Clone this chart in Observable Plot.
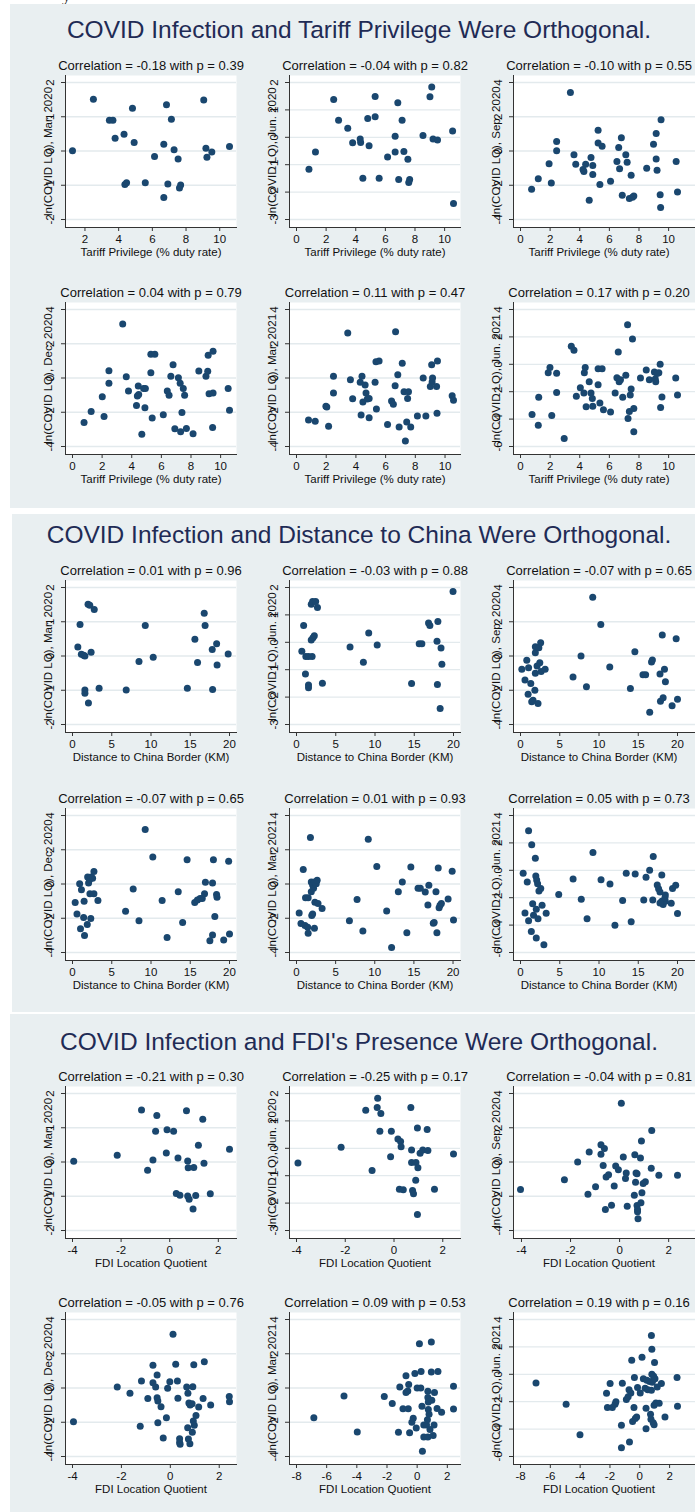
<!DOCTYPE html>
<html>
<head>
<meta charset="utf-8">
<script src="https://cdn.jsdelivr.net/npm/d3@7"></script>
<script src="https://cdn.jsdelivr.net/npm/@observablehq/plot@0.6"></script>
<style>
  html, body { margin: 0; padding: 0; background: #fff; }
  #page { position: relative; width: 695px; height: 1512px; overflow: hidden; background: #fff;
          font-family: "Liberation Sans", Arial, Helvetica, sans-serif; }
  .band { position: absolute; background: #e9eff1; }
  .stitle { position: absolute; left: 359px; transform: translateX(-50%); white-space: nowrap;
            font-size: 24.5px; line-height: 24.5px; color: #1f2b55; }
  .frag { position: absolute; left: 62px; top: -15px; font: 18px "Liberation Serif", serif; color: #222; }
  .panel { position: absolute; }
</style>
</head>
<body>
<div id="page"><span class="frag">y</span></div>
<script>
// ---- labels and ticks ----
const monthLabels = ["Mar. 2020", "Jun. 2020", "Sep. 2020", "Dec. 2020", "Mar. 2021", "Jun. 2021"];
const monthYTicks = [
  [-2, -1, 0, 1, 2],
  [-3, -2, -1, 0, 1, 2],
  [-4, -2, 0, 2, 4],
  [-4, -2, 0, 2, 4],
  [-4, -2, 0, 2, 4],
  [-6, -4, -2, 0, 2, 4]
];
const tariffTicks = [[2, 4, 6, 8, 10], [0, 2, 4, 6, 8, 10], [0, 2, 4, 6, 8, 10], [0, 2, 4, 6, 8, 10], [0, 2, 4, 6, 8, 10], [0, 2, 4, 6, 8, 10]];
const distanceTicks = [[0, 5, 10, 15, 20], [0, 5, 10, 15, 20], [0, 5, 10, 15, 20], [0, 5, 10, 15, 20], [0, 5, 10, 15, 20], [0, 5, 10, 15, 20]];
const fdiTicks = [[-4, -2, 0, 2], [-4, -2, 0, 2], [-4, -2, 0, 2], [-4, -2, 0, 2], [-8, -6, -4, -2, 0, 2], [-8, -6, -4, -2, 0, 2]];

// correlation coefficient and p-value shown above each panel
const tariffR = [-0.18, -0.04, -0.10, 0.04, 0.11, 0.17];
const tariffP = [0.39, 0.82, 0.55, 0.79, 0.47, 0.20];
const distanceR = [0.01, -0.03, -0.07, -0.07, 0.01, 0.05];
const distanceP = [0.96, 0.88, 0.65, 0.65, 0.93, 0.73];
const fdiR = [-0.21, -0.25, -0.04, -0.05, 0.09, 0.19];
const fdiP = [0.30, 0.17, 0.81, 0.76, 0.53, 0.16];

// ---- observations: [x, ln(COVID LQ)] ----
const tariffMar20 = [[1.26,0.01],[2.5,1.51],[3.45,0.9],[3.66,0.9],[3.79,0.37],[4.32,0.49],[4.82,1.25],[4.92,0.25],[4.37,-0.98],[4.47,-0.93],[5.58,-0.93],[6.13,-0.16],[6.68,0.2],[6.84,1.35],[7.13,0.93],[7.29,0.04],[7.53,-0.23],[6.68,-1.36],[6.92,-0.96],[7.68,-0.99],[7.61,-1.08],[9.05,1.49],[9.18,0.08],[9.24,-0.18],[9.53,-0.03],[10.58,0.13]];
const tariffJun20 = [[0.84,-1.17],[1.28,-0.54],[2.51,1.38],[2.84,0.62],[3.46,0.33],[3.79,-0.2],[4.3,-0.06],[4.33,-0.19],[4.81,0.69],[4.9,-0.31],[5.31,0.75],[5.31,1.49],[4.48,-1.49],[5.58,-1.49],[6.15,-0.72],[6.66,0.04],[6.66,-0.54],[6.84,1.26],[7.13,0.62],[7.25,-0.52],[7.52,-0.8],[6.9,-1.54],[7.64,-1.54],[7.58,-1.65],[8.54,0.07],[9.01,1.48],[9.13,1.84],[9.22,-0.06],[9.52,-0.1],[10.54,0.23],[10.6,-2.42]];
const tariffSep20 = [[0.75,-2.24],[1.2,-1.62],[1.93,-0.75],[2.08,-1.87],[2.44,0.55],[2.44,0.01],[3.37,3.42],[3.61,-0.22],[3.73,-0.77],[4.22,-1.08],[4.28,-1.19],[4.4,-0.77],[4.64,-2.88],[4.76,-0.38],[4.88,-0.84],[4.88,-1.37],[5.24,1.21],[5.24,0.47],[5.36,-1.95],[5.51,0.28],[6.08,-1.77],[6.51,-0.61],[6.63,0.2],[6.69,-1.04],[6.81,0.78],[6.87,-2.59],[7.11,-0.22],[7.2,-0.65],[7.35,-2.78],[7.47,-1.42],[7.56,-2.7],[7.65,-2.63],[8.52,-1.0],[8.98,0.4],[9.16,1.02],[9.16,-0.46],[9.22,-1.13],[9.49,1.83],[9.43,-2.55],[9.46,-3.3],[10.51,-0.61],[10.6,-2.39]];
const tariffDec20 = [[3.39,3.16],[0.78,-2.6],[1.26,-1.95],[2.01,-1.09],[2.13,-2.25],[2.46,0.43],[2.46,-0.31],[3.63,0.08],[3.78,-0.76],[4.32,-1.6],[4.38,-1.05],[4.44,-0.47],[4.47,-0.96],[4.68,-3.28],[4.8,-0.61],[4.92,-0.61],[4.89,-1.74],[5.29,1.39],[5.56,1.39],[5.29,0.31],[5.38,-2.34],[6.13,-2.15],[6.4,-0.76],[6.52,-1.0],[6.64,0.1],[6.79,0.78],[6.91,-2.97],[7.15,0.02],[7.27,-0.31],[7.3,-3.14],[7.39,-2.01],[7.48,-0.61],[7.57,-1.0],[7.69,-2.95],[8.14,-3.26],[8.53,0.41],[9.01,0.1],[9.13,0.39],[9.16,1.33],[9.22,-0.92],[9.49,1.56],[9.49,-0.88],[9.46,-2.89],[10.51,-0.61],[10.6,-1.89]];
const tariffMar21 = [[0.81,-2.45],[1.26,-2.53],[1.98,-1.65],[2.04,-1.69],[2.16,-2.82],[2.49,0.1],[2.49,-0.88],[3.45,2.63],[3.63,-0.1],[3.78,-1.21],[4.29,-0.25],[4.41,0.1],[4.35,-2.16],[4.47,-1.4],[4.62,-0.41],[4.68,-0.88],[4.77,-1.23],[4.89,-1.19],[4.89,-2.32],[5.29,-0.25],[5.35,0.95],[5.56,0.99],[5.38,-1.81],[6.13,-2.72],[6.4,-1.34],[6.52,-1.54],[6.64,-0.45],[6.67,2.7],[6.82,0.19],[6.91,-2.86],[7.12,0.86],[7.24,-0.8],[7.33,-3.68],[7.42,-2.57],[7.54,-0.8],[7.48,-1.19],[7.69,-2.86],[8.14,-2.22],[8.53,0.0],[8.71,-2.22],[9.1,0.78],[9.16,0.0],[9.13,-0.23],[9.01,-0.49],[9.43,-0.49],[9.49,0.99],[9.46,-2.06],[10.48,-1.03],[10.57,-1.3]];
const tariffJun21 = [[0.78,-3.66],[1.23,-2.41],[1.2,-4.44],[1.87,-0.61],[1.99,-0.24],[2.11,-3.73],[2.44,-0.66],[2.44,-2.05],[2.95,-5.41],[3.43,1.32],[3.61,1.02],[3.77,-2.34],[4.04,-1.71],[4.31,-0.61],[4.37,-0.24],[4.28,-2.1],[4.43,-3.1],[4.64,-1.27],[4.76,-2.1],[4.85,-2.49],[4.88,-3.07],[5.24,-1.49],[5.24,-0.32],[5.36,-2.83],[5.51,-0.32],[5.6,-3.32],[6.08,-3.49],[6.39,-2.1],[6.51,-0.98],[6.6,0.9],[6.66,-1.27],[6.75,-1.12],[6.9,-2.41],[7.11,-0.8],[7.23,2.88],[7.26,-3.95],[7.35,-3.44],[7.41,-2.24],[7.47,-1.8],[7.56,1.85],[7.65,-3.22],[7.65,-4.93],[8.1,-1.0],[8.49,-0.41],[8.7,-1.12],[9.04,-0.56],[9.13,-1.27],[9.1,-1.07],[9.34,-0.61],[9.43,0.0],[9.46,-3.15],[9.55,-2.39],[10.48,-1.0],[10.6,-2.24],[9.22,-0.68]];

const distMar20 = [[0.68,0.26],[0.96,0.92],[1.13,0.05],[1.41,0.02],[1.58,0.0],[1.98,1.51],[2.2,1.48],[2.77,1.36],[2.37,0.11],[1.58,-0.99],[1.58,-1.09],[2.03,-1.37],[3.39,-0.94],[6.84,-0.99],[8.47,-0.16],[9.27,0.89],[10.28,-0.04],[14.63,-0.94],[15.59,0.49],[15.93,-0.19],[16.78,1.25],[16.89,0.89],[17.85,-0.98],[17.8,0.19],[18.36,0.36],[18.42,-0.26],[19.83,0.06]];
const distJun20 = [[0.68,-0.33],[0.91,0.61],[1.14,-1.16],[1.19,-0.52],[1.53,-0.52],[1.99,-0.52],[1.53,-1.56],[1.53,-1.66],[1.88,1.39],[2.05,1.49],[2.44,1.49],[2.67,1.27],[1.88,0.08],[2.1,0.17],[2.27,0.24],[3.3,-1.49],[6.82,-0.17],[8.52,-0.73],[9.2,0.34],[10.28,-0.1],[14.66,-1.5],[15.63,-0.05],[15.97,-0.05],[16.82,0.7],[16.99,0.61],[18.01,0.76],[17.9,0.04],[18.41,-0.21],[18.52,-0.8],[17.95,-1.54],[18.3,-2.42],[19.94,1.85]];
const distSep20 = [[0.17,-0.78],[0.57,-1.4],[0.8,-0.25],[1.03,-0.68],[0.97,-2.23],[1.31,-1.61],[1.43,-2.67],[1.6,-2.58],[1.83,-2.0],[1.89,-1.01],[1.89,0.19],[1.89,0.54],[2.11,-0.58],[2.23,-2.77],[2.34,0.48],[2.46,-0.39],[2.57,0.78],[2.63,-0.91],[3.14,-0.78],[6.69,-1.22],[7.71,0.0],[8.4,-1.8],[9.2,3.43],[10.23,1.84],[11.37,-0.64],[14.0,-1.9],[14.57,0.25],[16.69,-0.35],[16.8,-0.23],[15.6,-1.1],[15.94,-1.1],[17.77,-1.05],[18.34,-0.78],[18.46,-1.51],[18.06,1.22],[17.83,-2.64],[18.17,-2.44],[16.46,-3.29],[19.31,-2.91],[20.0,-2.52],[19.83,1.01]];
const distDec20 = [[0.34,-1.08],[0.57,-1.75],[0.91,0.02],[1.14,-0.33],[1.02,-2.61],[1.42,-1.96],[1.48,-1.0],[1.53,-3.0],[1.88,-2.37],[1.93,0.41],[2.05,0.06],[2.16,0.25],[2.22,-0.57],[2.33,-2.02],[2.39,0.41],[2.56,0.33],[2.73,0.73],[2.73,-0.57],[3.24,-0.96],[6.76,-1.59],[7.73,-0.29],[8.47,-2.14],[9.26,3.18],[10.23,1.57],[11.42,-0.96],[12.05,-3.12],[13.47,-0.45],[14.03,-2.25],[14.6,1.41],[15.57,-1.08],[15.91,-0.94],[16.25,-0.84],[16.53,-0.84],[16.82,-0.57],[16.93,0.1],[17.84,0.06],[17.95,1.41],[17.84,-2.98],[17.5,-3.31],[18.13,-1.9],[18.35,-0.61],[18.41,-0.78],[19.26,-3.27],[19.89,1.33],[20.0,-2.92]];
const distMar21 = [[0.34,-1.69],[0.57,-2.31],[0.86,0.84],[1.09,-2.43],[1.15,-0.8],[1.49,-0.8],[1.43,-2.53],[1.49,-2.88],[1.78,2.71],[1.89,0.12],[1.95,-1.84],[1.89,-0.45],[2.06,-0.06],[2.06,-1.75],[2.18,-0.25],[2.29,-2.59],[2.29,0.12],[2.35,-1.06],[2.52,0.02],[2.64,0.22],[2.75,-1.14],[3.27,-1.43],[6.76,-2.14],[7.74,-0.9],[8.48,-2.75],[9.17,2.61],[10.26,1.02],[11.52,-1.57],[12.15,-3.71],[13.01,-0.45],[13.52,0.12],[14.1,-2.84],[14.61,1.0],[15.53,-0.25],[15.82,-0.25],[16.45,-0.47],[16.91,-0.08],[16.79,-1.22],[17.48,-2.29],[17.59,-2.25],[17.82,-0.45],[17.94,-2.84],[18.11,0.94],[18.22,-1.39],[18.34,-1.24],[18.51,-1.14],[19.37,-0.88],[19.89,0.75],[20.06,-2.1]];
const distJun21 = [[0.34,-0.22],[0.57,-3.11],[0.86,-0.86],[1.03,2.89],[1.03,-3.68],[1.38,-4.46],[1.43,1.86],[1.55,-2.45],[1.66,-3.28],[1.89,0.88],[1.95,-0.42],[2.01,-4.95],[2.01,-2.84],[2.06,-0.71],[2.18,-0.98],[2.23,-3.53],[2.35,-1.52],[2.58,-1.32],[2.75,-2.55],[2.98,-5.44],[3.27,-3.14],[4.87,-1.76],[6.7,-0.64],[7.74,-2.11],[8.48,-3.53],[9.23,1.3],[10.26,-0.69],[11.4,-1.0],[12.03,-4.02],[13.01,-2.21],[13.47,-0.22],[14.1,-3.75],[14.61,-0.27],[15.7,-2.16],[15.99,-0.51],[16.45,0.0],[16.91,1.0],[16.85,-2.16],[17.42,-1.08],[17.59,-1.35],[17.77,-1.59],[18.0,-0.34],[18.0,-2.25],[18.17,-2.5],[18.45,-1.81],[18.45,-2.25],[18.4,-2.01],[17.77,-2.38],[19.2,-2.4],[19.37,-1.32],[19.77,-1.1],[20.0,-3.16]];

const fdiMar20 = [[-3.95,0.02],[-2.16,0.2],[-1.16,1.52],[-0.91,-0.24],[-0.69,0.06],[-0.58,0.9],[-0.53,1.36],[-0.14,0.26],[-0.11,0.94],[0.16,0.9],[0.27,-0.92],[0.34,0.12],[0.42,-0.97],[0.69,1.5],[0.74,0.03],[0.76,-0.17],[0.74,-0.99],[0.8,-1.09],[0.96,-1.37],[0.99,-0.16],[1.07,-0.98],[1.18,0.49],[1.36,1.25],[1.41,-0.04],[1.67,-0.93],[2.46,0.37]];
const fdiJun20 = [[-3.94,-0.54],[-2.17,0.04],[-1.16,1.39],[-0.9,-0.81],[-0.69,1.49],[-0.67,1.83],[-0.54,1.27],[-0.58,0.62],[-0.11,0.62],[-0.14,-0.31],[0.16,0.34],[0.27,0.25],[0.29,0.06],[0.22,-1.49],[0.38,-1.51],[0.69,1.49],[0.72,-0.06],[0.72,-0.52],[0.76,-1.54],[0.8,-1.66],[0.9,-0.52],[0.98,-0.71],[0.89,-1.17],[0.96,0.74],[0.96,-2.42],[1.07,-0.18],[1.18,-0.06],[1.36,0.69],[1.39,-0.08],[1.66,-1.49],[2.44,-0.21]];
const fdiSep20 = [[-4.04,-1.61],[-2.25,-1.03],[-1.71,0.0],[-1.29,-1.88],[-1.24,0.58],[-0.98,-1.45],[-0.76,1.01],[-0.76,0.45],[-0.62,0.79],[-0.67,-0.21],[-0.58,-2.77],[-0.55,-0.87],[-0.45,-0.74],[-0.33,-2.52],[-0.22,-1.4],[-0.16,-0.23],[-0.05,-0.45],[0.07,3.43],[0.15,0.29],[0.24,-0.97],[0.27,-0.64],[0.31,-2.58],[0.6,-1.94],[0.62,0.43],[0.67,-0.64],[0.71,-0.68],[0.65,-1.18],[0.71,-2.54],[0.73,-2.77],[0.73,-2.91],[0.75,-3.31],[0.85,0.23],[0.87,-2.38],[0.91,-1.8],[0.96,-1.26],[1.05,-1.16],[0.89,1.22],[1.29,-0.37],[1.31,1.84],[1.6,-0.78],[2.36,-0.78]];
const fdiDec20 = [[-3.96,-1.97],[-2.17,0.06],[-1.65,-0.31],[-1.23,-2.24],[-1.18,0.41],[-0.92,-0.62],[-0.71,1.33],[-0.71,0.31],[-0.6,0.06],[-0.54,0.76],[-0.54,-0.57],[-0.51,-0.76],[-0.51,-2.03],[-0.38,-1.09],[-0.29,-2.92],[-0.16,-1.73],[-0.11,-0.02],[-0.02,0.37],[0.11,3.14],[0.22,1.38],[0.29,0.41],[0.31,-0.6],[0.38,-2.96],[0.38,-3.18],[0.4,-3.29],[0.67,0.06],[0.72,-0.31],[0.71,-2.32],[0.76,-0.88],[0.81,-0.99],[0.74,-2.98],[0.8,-3.26],[0.89,-0.92],[0.92,0.08],[0.96,1.36],[0.94,-1.93],[0.98,-2.18],[0.9,-2.59],[1.05,-1.6],[1.16,-1.11],[1.34,-0.62],[1.39,1.54],[1.65,-0.99],[2.41,-0.49],[2.42,-0.8]];
const fdiMar21 = [[-6.85,-1.73],[-4.85,-0.47],[-3.97,-2.57],[-2.18,-0.49],[-1.65,-0.91],[-1.24,-2.59],[-1.15,0.06],[-0.94,-1.21],[-0.74,-0.27],[-0.74,0.72],[-0.59,-1.21],[-0.62,-0.18],[-0.56,0.21],[-0.5,-2.61],[-0.35,-2.0],[-0.26,-1.77],[-0.15,0.84],[-0.06,-2.33],[0.0,0.0],[0.15,2.59],[0.26,0.97],[0.24,0.0],[0.32,-1.07],[0.44,-2.16],[0.44,-2.86],[0.35,-3.7],[0.62,-2.16],[0.71,-0.19],[0.71,-0.56],[0.74,-0.82],[0.74,-1.26],[0.68,-1.85],[0.71,-2.86],[0.79,-1.54],[0.85,-2.43],[0.94,0.93],[0.94,2.68],[0.97,-0.72],[1.06,-2.78],[1.12,-2.16],[1.15,-0.27],[1.32,-1.19],[1.38,0.97],[1.62,-1.42],[2.41,0.1],[2.41,-1.23]];
const fdiJun21 = [[-6.96,-0.63],[-4.94,-2.18],[-4.01,-4.42],[-2.23,-1.38],[-2.17,-2.43],[-1.99,-0.68],[-1.84,-2.43],[-1.66,-2.18],[-1.6,-2.01],[-1.23,-3.71],[-1.23,-5.36],[-1.17,-0.66],[-0.9,-1.84],[-0.78,-1.63],[-0.72,-1.12],[-0.69,-4.95],[-0.6,-1.36],[-0.54,1.02],[-0.48,-3.45],[-0.39,-2.43],[-0.36,-0.24],[-0.3,-3.23],[-0.21,-3.11],[-0.15,-0.97],[0.03,-1.36],[0.15,1.24],[0.24,-0.32],[0.36,-1.02],[0.42,-2.48],[0.42,-3.98],[0.54,-1.12],[0.66,-0.53],[0.72,-2.91],[0.75,-3.28],[0.78,2.84],[0.81,1.82],[0.81,0.0],[0.78,-1.17],[0.84,-0.58],[0.9,-3.54],[0.96,-3.69],[0.99,0.87],[0.96,-2.26],[1.02,-0.32],[1.08,-2.09],[1.17,-0.92],[1.3,-2.11],[1.45,-0.68],[1.69,-3.11],[2.5,-0.24],[2.53,-2.33],[0.48,-0.44],[0.93,-0.15]];

// ---- styling ----
const NAVY = "#1a476f";
const GRID = "#e3eaed";
const AXIS = "#333333";
const FONT = '"Liberation Sans", Arial, Helvetica, sans-serif';

// ---- layout of the three stacked figures ----
const sections = [
  { title: "COVID Infection and Tariff Privilege Were Orthogonal.", xLabel: "Tariff Privilege (% duty rate)",
    ticks: tariffTicks, r: tariffR, p: tariffP,
    series: [tariffMar20, tariffJun20, tariffSep20, tariffDec20, tariffMar21, tariffJun21],
    band: [4, 508, 10], titleTop: 18.3, rows: [81.7, 308.5] },
  { title: "COVID Infection and Distance to China Were Orthogonal.", xLabel: "Distance to China Border (KM)",
    ticks: distanceTicks, r: distanceR, p: distanceP,
    series: [distMar20, distJun20, distSep20, distDec20, distMar21, distJun21],
    band: [514, 1012, 12], titleTop: 523.3, rows: [587.3, 814.5] },
  { title: "COVID Infection and FDI's Presence Were Orthogonal.", xLabel: "FDI Location Quotient",
    ticks: fdiTicks, r: fdiR, p: fdiP,
    series: [fdiMar20, fdiJun20, fdiSep20, fdiDec20, fdiMar21, fdiJun21],
    band: [1014, 1512, 10], titleTop: 1030, rows: [1092.7, 1319.3] }
];
const colFrameLeft = [64.5, 289.2, 513.4];
const colFrameWidth = [171, 171, 182];
const ML = 64, MT = 30, MB = 40, FRAME_H = 152;

function scatterPanel({data, xTicks, yTicks, title, xLabel, yLabel, col}) {
  const frameW = colFrameWidth[col];
  const extra = frameW - 171;
  const xs = data.map(d => d[0]);
  const xDomain = [Math.min(d3.min(xs), xTicks[0]), Math.max(d3.max(xs), xTicks[xTicks.length - 1])];
  const yDomain = [yTicks[0], yTicks[yTicks.length - 1]];
  return Plot.plot({
    width: ML + frameW,
    height: MT + FRAME_H + MB,
    marginLeft: ML, marginRight: 0, marginTop: MT, marginBottom: MB,
    style: {background: "transparent", fontFamily: FONT, fontSize: "11.5px", color: "#111", overflow: "visible"},
    x: {domain: xDomain, insetLeft: 7, insetRight: 7 + extra},
    y: {domain: yDomain, insetTop: 7, insetBottom: 8},
    marks: [
      Plot.frame({fill: "white", stroke: null}),
      Plot.gridY(yTicks, {stroke: GRID, strokeOpacity: 1, strokeWidth: 1.3}),
      Plot.dot(data, {x: d => d[0], y: d => d[1], r: 3.5, fill: NAVY}),
      Plot.frame({anchor: "bottom", stroke: AXIS, strokeOpacity: 1}),
      Plot.frame({anchor: "left", stroke: AXIS, strokeOpacity: 1}),
      Plot.axisX({ticks: xTicks, tickSize: 4, tickPadding: 3.6, tickFormat: d => String(d), label: null, stroke: AXIS}),
      Plot.axisY({ticks: yTicks, tickSize: 4, tickPadding: 8, tickRotate: -90, tickFormat: d => String(d), label: null, stroke: AXIS}),
      Plot.text([title], {text: d => d, frameAnchor: "top", dy: -9.3, dx: -extra / 2, fontSize: 13, lineAnchor: "middle"}),
      Plot.text([xLabel], {text: d => d, frameAnchor: "bottom", dy: 24.4, dx: -extra / 2, fontSize: 11.5, lineAnchor: "middle"}),
      Plot.text([yLabel], {text: d => d, frameAnchor: "left", rotate: -90, dx: -14, lineAnchor: "bottom", textAnchor: "middle", fontSize: 11.5})
    ]
  });
}

const page = document.getElementById("page");
for (const s of sections) {
  const band = document.createElement("div");
  band.className = "band";
  band.style.left = s.band[2] + "px";
  band.style.top = s.band[0] + "px";
  band.style.width = (695 - s.band[2]) + "px";
  band.style.height = (s.band[1] - s.band[0]) + "px";
  page.appendChild(band);

  const t = document.createElement("div");
  t.className = "stitle";
  t.style.top = s.titleTop + "px";
  t.textContent = s.title;
  page.appendChild(t);

  s.series.forEach((data, i) => {
    const row = Math.floor(i / 3), col = i % 3;
    const svg = scatterPanel({
      data,
      xTicks: s.ticks[i],
      yTicks: monthYTicks[i],
      title: `Correlation = ${s.r[i].toFixed(2)} with p = ${s.p[i].toFixed(2)}`,
      xLabel: s.xLabel,
      yLabel: `ln(COVID LQ), ${monthLabels[i]}`,
      col
    });
    svg.classList.add("panel");
    svg.style.left = (colFrameLeft[col] - ML) + "px";
    svg.style.top = (s.rows[row] - 7 - MT) + "px";
    page.appendChild(svg);
  });
}
</script>
</body>
</html>
